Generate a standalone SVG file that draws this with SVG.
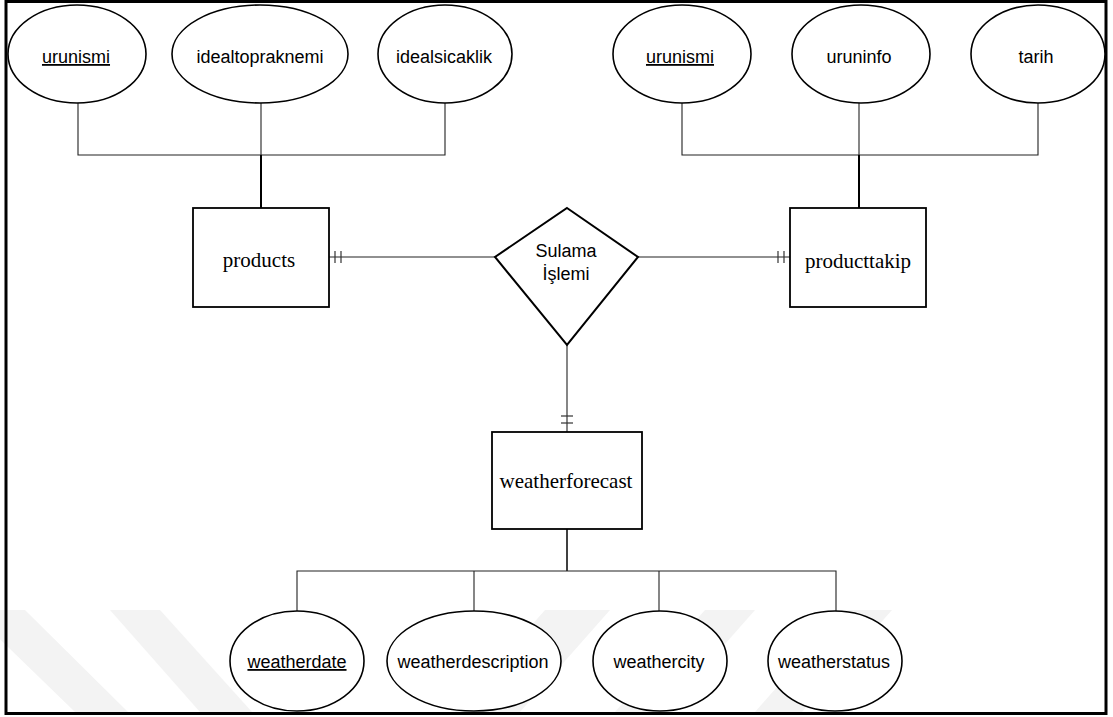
<svg xmlns="http://www.w3.org/2000/svg" width="1113" height="717" viewBox="0 0 1113 717">
<style>
.attr{fill:#fff;stroke:#000;stroke-width:1.6}
.ent{fill:#fff;stroke:#000;stroke-width:1.8}
.rel{fill:#fff;stroke:#000;stroke-width:2}
.ln{fill:none;stroke:#222;stroke-width:1.1}
.lnb{fill:none;stroke:#000;stroke-width:2}
.tick{fill:none;stroke:#333;stroke-width:1.2}
.at{font-family:"Liberation Sans",Arial,sans-serif;font-size:18px;fill:#000;text-anchor:middle}
.et{font-family:"Liberation Serif","Times New Roman",serif;font-size:21px;fill:#000;text-anchor:middle}
.wm{fill:#f3f3f3}
</style>
<rect x="0" y="0" width="1113" height="717" fill="#fff"/>
<g id="watermark">
<polygon class="wm" points="-30,610 25,610 128,712 75,712"/>
<polygon class="wm" points="110,610 160,610 252,712 200,712"/>
<polygon class="wm" points="545,610 610,610 520,712 455,712"/>
<polygon class="wm" points="705,610 755,610 665,712 615,712"/>
<polygon class="wm" points="845,610 892,610 802,712 755,712"/>
</g>
<rect x="6" y="1.5" width="1100" height="712" fill="none" stroke="#000" stroke-width="3"/>
<g id="connectors">
<polyline class="ln" points="78,103 78,155 445,155 445,103"/>
<line class="ln" x1="261" y1="103" x2="261" y2="155"/>
<line class="lnb" x1="261" y1="155" x2="261" y2="208"/>
<polyline class="ln" points="682,103 682,155 1038,155 1038,103"/>
<line class="ln" x1="859" y1="103" x2="859" y2="155"/>
<line class="lnb" x1="859" y1="155" x2="859" y2="208"/>
<line class="ln" x1="329" y1="257" x2="495" y2="257"/>
<line class="tick" x1="335" y1="251" x2="335" y2="263"/>
<line class="tick" x1="341" y1="251" x2="341" y2="263"/>
<line class="ln" x1="638" y1="257" x2="790" y2="257"/>
<line class="tick" x1="778" y1="251" x2="778" y2="263"/>
<line class="tick" x1="784" y1="251" x2="784" y2="263"/>
<line class="ln" x1="567" y1="345" x2="567" y2="432"/>
<line class="tick" x1="561" y1="416" x2="573" y2="416"/>
<line class="tick" x1="561" y1="423" x2="573" y2="423"/>
<line class="lnb" x1="567" y1="529" x2="567" y2="571" style="stroke-width:1.5"/>
<polyline class="ln" points="297,611 297,571 836,571 836,611"/>
<line class="ln" x1="474" y1="571" x2="474" y2="611"/>
<line class="ln" x1="659" y1="571" x2="659" y2="611"/>
</g>
<g id="attr-urunismi-1"><ellipse class="attr" cx="77" cy="54" rx="69" ry="49"/><text class="at" x="76" y="63" text-decoration="underline">urunismi</text></g>
<g id="attr-idealtopraknemi"><ellipse class="attr" cx="260" cy="54" rx="88" ry="49"/><text class="at" x="260" y="63">idealtopraknemi</text></g>
<g id="attr-idealsicaklik"><ellipse class="attr" cx="445" cy="54" rx="67" ry="49"/><text class="at" x="444" y="63">idealsicaklik</text></g>
<g id="attr-urunismi-2"><ellipse class="attr" cx="682" cy="54" rx="69" ry="49"/><text class="at" x="680" y="63" text-decoration="underline">urunismi</text></g>
<g id="attr-uruninfo"><ellipse class="attr" cx="861" cy="54" rx="69" ry="49"/><text class="at" x="859" y="63">uruninfo</text></g>
<g id="attr-tarih"><ellipse class="attr" cx="1038" cy="54" rx="67" ry="49"/><text class="at" x="1036" y="63">tarih</text></g>
<g id="ent-products"><rect class="ent" x="193" y="208" width="136" height="99"/><text class="et" x="259" y="267">products</text></g>
<g id="ent-producttakip"><rect class="ent" x="790" y="208" width="136" height="99"/><text class="et" x="858" y="268">producttakip</text></g>
<g id="rel-sulama"><polygon class="rel" points="567,208 638,257 567,345 495,257"/><text class="at" x="566" y="257">Sulama</text><text class="at" x="566" y="280">İşlemi</text></g>
<g id="ent-weatherforecast"><rect class="ent" x="492" y="432" width="150" height="97"/><text class="et" x="566" y="488">weatherforecast</text></g>
<g id="attr-weatherdate"><ellipse class="attr" cx="297" cy="661" rx="67" ry="50"/><text class="at" x="297" y="668" text-decoration="underline">weatherdate</text></g>
<g id="attr-weatherdescription"><ellipse class="attr" cx="474" cy="661" rx="87" ry="50"/><text class="at" x="473" y="668">weatherdescription</text></g>
<g id="attr-weathercity"><ellipse class="attr" cx="660" cy="661" rx="67" ry="50"/><text class="at" x="659" y="668">weathercity</text></g>
<g id="attr-weatherstatus"><ellipse class="attr" cx="835" cy="661" rx="67" ry="50"/><text class="at" x="834" y="668">weatherstatus</text></g>
</svg>
